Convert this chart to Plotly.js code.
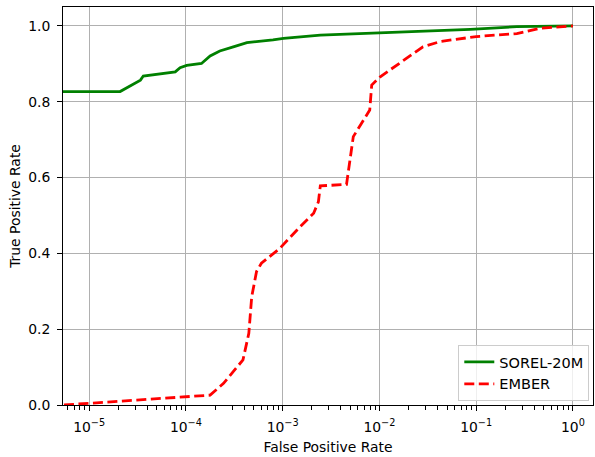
<!DOCTYPE html>
<html>
<head>
<meta charset="utf-8">
<script src="https://cdn.plot.ly/plotly-3.0.1.min.js"></script>
<style>html,body{margin:0;padding:0;background:#fff;}#chart{width:595px;height:457px;}</style>
</head>
<body>
<div id="chart"></div>
<script>
// SOREL-20M ROC
const sorelFpr = [5.0e-6, 2.09e-5, 3.39e-5, 3.63e-5, 7.76e-5, 8.71e-5, 1.02e-4, 1.45e-4, 1.78e-4, 2.24e-4, 3.09e-4, 4.27e-4, 7.94e-4, 1.02e-3, 2.45e-3, 7.94e-3, 0.0309, 0.0871, 0.263, 1.0];
const sorelTpr = [0.827, 0.827, 0.857, 0.868, 0.879, 0.890, 0.896, 0.901, 0.921, 0.934, 0.945, 0.956, 0.963, 0.967, 0.976, 0.981, 0.987, 0.991, 0.998, 1.0];
// EMBER ROC
const emberFpr = [5.5e-6, 1.0e-5, 3.1e-5, 1.78e-4, 2.45e-4, 3.89e-4, 4.47e-4, 4.79e-4, 5.37e-4, 6.03e-4, 9.33e-4, 1.51e-3, 2.09e-3, 2.34e-3, 2.45e-3, 4.57e-3, 5.37e-3, 7.94e-3, 8.32e-3, 0.0102, 0.0151, 0.0282, 0.0427, 0.1, 0.263, 0.457, 1.0];
const emberTpr = [0.0, 0.004, 0.013, 0.026, 0.057, 0.119, 0.189, 0.286, 0.352, 0.374, 0.413, 0.470, 0.506, 0.536, 0.578, 0.582, 0.708, 0.778, 0.844, 0.866, 0.897, 0.945, 0.959, 0.972, 0.980, 0.994, 1.0];

const xTickVals = [1e-5, 1e-4, 1e-3, 1e-2, 1e-1, 1];
const xTickText = ['10<sup>\u22125</sup>', '10<sup>\u22124</sup>', '10<sup>\u22123</sup>', '10<sup>\u22122</sup>', '10<sup>\u22121</sup>', '10<sup>0</sup>'];
const yTickVals = [0, 0.2, 0.4, 0.6, 0.8, 1.0];

// minor ticks at 2..9 times each decade
const minorVals = [];
[1e-6, 1e-5, 1e-4, 1e-3, 1e-2, 1e-1, 1].forEach(function (d) {
  for (let k = 2; k <= 9; k++) minorVals.push(d * k);
});

const FONT = 'DejaVu Sans, sans-serif';
const X_RANGE = [-5.27, 0.207];
const traces = [
  {x: sorelFpr, y: sorelTpr, name: 'SOREL-20M', mode: 'lines', line: {color: '#008000', width: 2.8}},
  {x: emberFpr, y: emberTpr, name: 'EMBER', mode: 'lines', line: {color: '#ff0000', width: 2.8, dash: '10px,4.5px'}},
  // invisible carrier so the minor-tick axis is drawn
  {x: sorelFpr, y: sorelTpr, xaxis: 'x2', yaxis: 'y', mode: 'lines', opacity: 0, line: {width: 0.1}, showlegend: false, hoverinfo: 'skip'}
];
const layout = {
  width: 595, height: 457,
  margin: {l: 63, r: 2, t: 7, b: 52},
  paper_bgcolor: '#fff', plot_bgcolor: '#fff',
  font: {family: FONT, size: 13.9, color: '#000'},
  showlegend: true,
  legend: {x: 0.993, y: 0.01, xanchor: 'right', yanchor: 'bottom', bgcolor: 'rgba(255,255,255,0.8)', bordercolor: '#cccccc', borderwidth: 1, font: {size: 14.5}},
  xaxis: {
    type: 'log', range: X_RANGE,
    tickmode: 'array', tickvals: xTickVals, ticktext: xTickText,
    ticks: 'outside', ticklen: 5, tickwidth: 1, tickcolor: '#000',
    ticklabelstandoff: 4,
    showgrid: true, gridcolor: '#b0b0b0', gridwidth: 1,
    showline: true, linecolor: '#000', linewidth: 1, mirror: true,
    zeroline: false,
    title: {text: 'False Positive Rate', font: {size: 13.9}, standoff: 8}
  },
  xaxis2: {
    type: 'log', range: X_RANGE, overlaying: 'x', side: 'bottom', anchor: 'y',
    tickmode: 'array', tickvals: minorVals, showticklabels: false,
    ticks: 'outside', ticklen: 3.5, tickwidth: 1, tickcolor: '#000',
    showgrid: false, showline: false, zeroline: false
  },
  yaxis: {
    range: [0, 1.05],
    tickmode: 'array', tickvals: yTickVals, tickformat: '.1f',
    ticks: 'outside', ticklen: 5, tickwidth: 1, tickcolor: '#000',
    ticklabelstandoff: 4,
    showgrid: true, gridcolor: '#b0b0b0', gridwidth: 1,
    showline: true, linecolor: '#000', linewidth: 1, mirror: true,
    zeroline: false,
    title: {text: 'True Positive Rate', font: {size: 13.9}, standoff: 4}
  }
};
Plotly.newPlot('chart', traces, layout, {staticPlot: true, displayModeBar: false});
</script>
</body>
</html>
